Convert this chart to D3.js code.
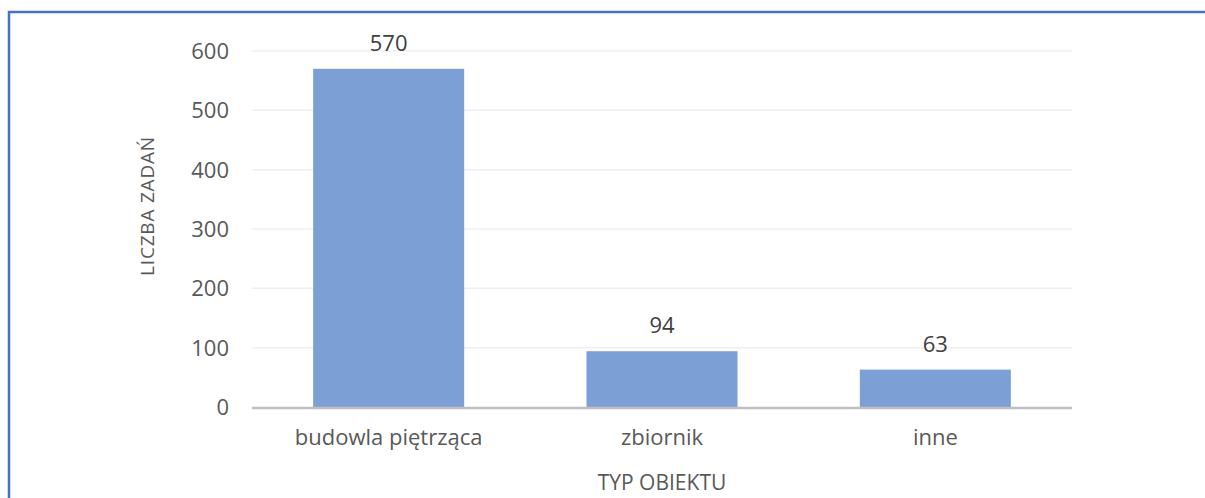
<!DOCTYPE html>
<html><head><meta charset="utf-8">
<script src="https://cdn.jsdelivr.net/npm/d3@7"></script>
<style>body{margin:0;background:#fff;} svg{display:block;}</style>
</head><body>
<svg id="c" width="1205" height="498"></svg>
<script>
const categories = ["budowla piętrząca", "zbiornik", "inne"];
const values = [570, 94, 63];
const yTicks = [0, 100, 200, 300, 400, 500, 600];
const yTitle = "LICZBA ZADAŃ";
const xTitle = "TYP OBIEKTU";

const svg = d3.select("#c");
const font = "'Open Sans', sans-serif";
// border
svg.append("path").attr("d", "M9,498 V12 H1205").attr("fill","none").attr("stroke","#4472C4").attr("stroke-width",2.5);

const m = {l:252, r:1072, t:51, b:407};
const x = d3.scaleBand().domain(categories).range([m.l, m.r]).paddingInner(0.4475).paddingOuter(0.2237);
const y = d3.scaleLinear().domain([0,600]).range([m.b, m.t]);

svg.append("g").selectAll("line").data(yTicks.filter(d=>d>0)).join("line")
  .attr("x1", m.l).attr("x2", m.r).attr("y1", d=>y(d)).attr("y2", d=>y(d))
  .attr("stroke","#EFEFEF").attr("stroke-width",1.5);

svg.append("g").selectAll("rect").data(values).join("rect")
  .attr("x",(d,i)=>x(categories[i])).attr("width",x.bandwidth())
  .attr("y",d=>y(d)).attr("height",d=>y(0)-y(d)).attr("fill","#7C9FD6");

svg.append("line").attr("x1",m.l).attr("x2",m.r).attr("y1",y(0)+1).attr("y2",y(0)+1).attr("stroke","#BFBFBF").attr("stroke-width",2.5);

svg.append("g").selectAll("text").data(yTicks).join("text")
  .attr("x",229).attr("y",d=>y(d)).attr("dy","0.36em").attr("text-anchor","end")
  .attr("font-family",font).attr("font-size",22).attr("fill","#595959").text(d=>d);

svg.append("g").selectAll("text").data(categories).join("text")
  .attr("x",d=>x(d)+x.bandwidth()/2).attr("y",445).attr("text-anchor","middle")
  .attr("font-family",font).attr("font-size",22).attr("fill","#595959").text(d=>d);

svg.append("g").selectAll("text").data(values).join("text")
  .attr("x",(d,i)=>x(categories[i])+x.bandwidth()/2).attr("y",d=>y(d)-18).attr("text-anchor","middle")
  .attr("font-family",font).attr("font-size",22).attr("fill","#404040").text(d=>d);

svg.append("text").attr("x",662).attr("y",490).attr("text-anchor","middle")
  .attr("font-family",font).attr("font-size",21).attr("fill","#595959").text(xTitle);
svg.append("text").attr("transform","translate(153.5,206) rotate(-90)").attr("text-anchor","middle")
  .attr("font-family",font).attr("font-size",19).attr("letter-spacing",0.8).attr("fill","#595959").text(yTitle);
</script>
</body></html>
